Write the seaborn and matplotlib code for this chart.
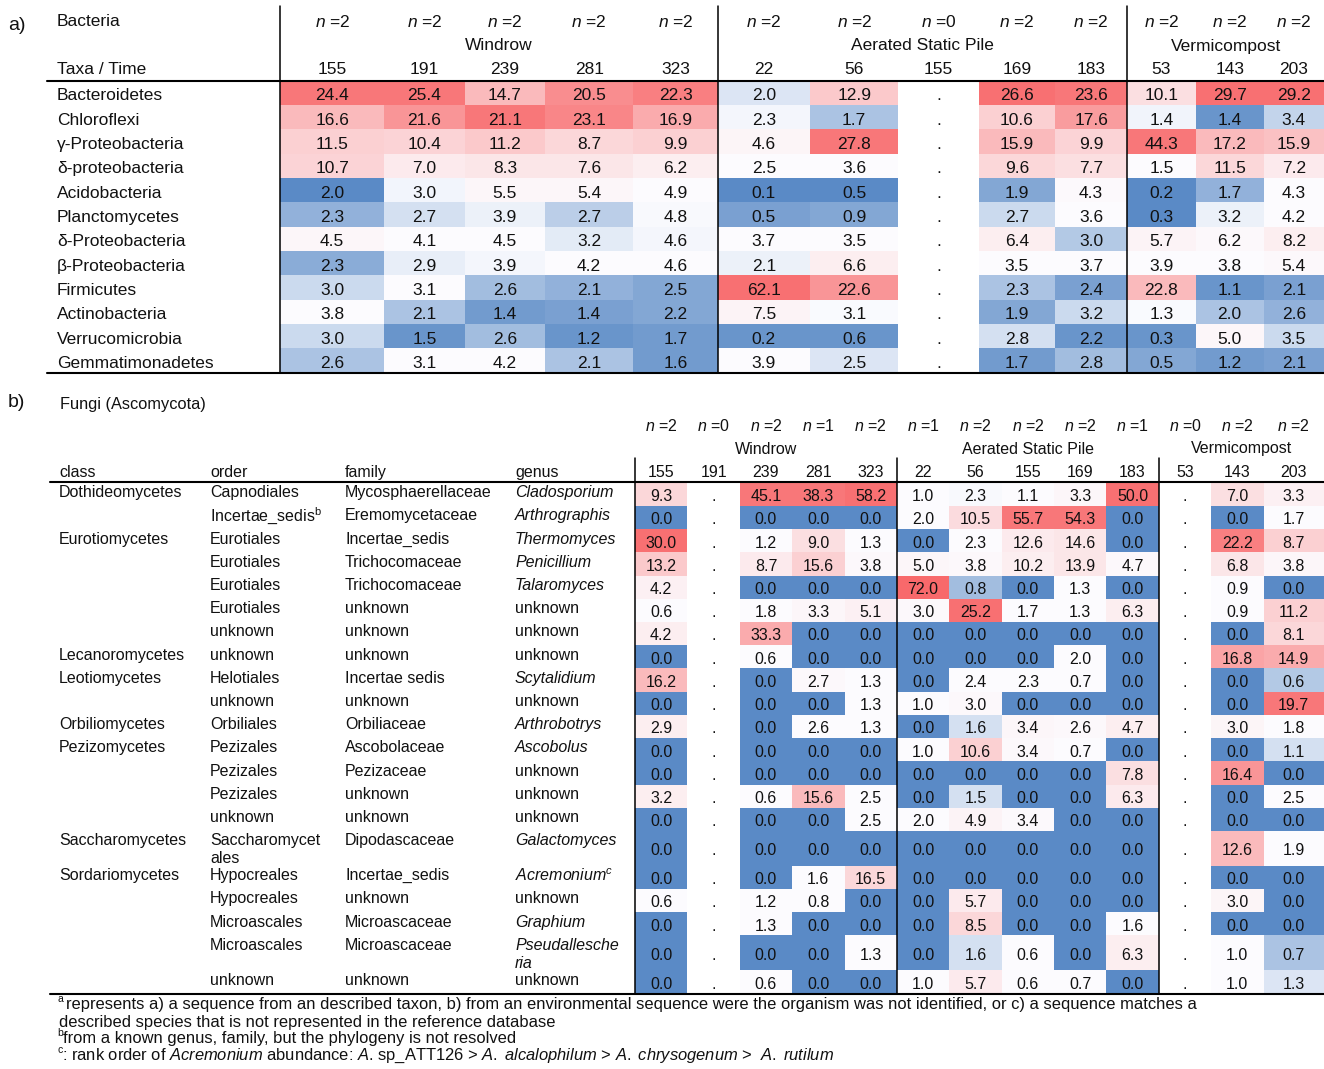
import numpy as np
import pandas as pd
import seaborn as sns
import matplotlib.pyplot as plt
from matplotlib.colors import LinearSegmentedColormap
from matplotlib.lines import Line2D
from matplotlib import transforms

sns.set_theme(style="white")
plt.rcParams["font.family"] = ["Liberation Sans", "DejaVu Sans"]
plt.rcParams["mathtext.fontset"] = "custom"
plt.rcParams["mathtext.rm"] = "Liberation Sans"
plt.rcParams["mathtext.it"] = "Liberation Sans:italic"
plt.rcParams["text.color"] = "#111111"

nan = np.nan

# ---------------- a) Bacteria ----------------
bac_taxa = ["Bacteroidetes", "Chloroflexi", "γ-Proteobacteria", "δ-proteobacteria",
            "Acidobacteria", "Planctomycetes", "δ-Proteobacteria", "β-Proteobacteria",
            "Firmicutes", "Actinobacteria", "Verrucomicrobia", "Gemmatimonadetes"]
bac_groups = ["Windrow", "Aerated Static Pile", "Vermicompost"]
bac_group_size = [5, 5, 3]
bac_times = ["155", "191", "239", "281", "323", "22", "56", "155", "169", "183", "53", "143", "203"]
bac_n = [2, 2, 2, 2, 2, 2, 2, 0, 2, 2, 2, 2, 2]

bac_pct = [
    [24.4, 25.4, 14.7, 20.5, 22.3, 2.0, 12.9, nan, 26.6, 23.6, 10.1, 29.7, 29.2],
    [16.6, 21.6, 21.1, 23.1, 16.9, 2.3, 1.7, nan, 10.6, 17.6, 1.4, 1.4, 3.4],
    [11.5, 10.4, 11.2, 8.7, 9.9, 4.6, 27.8, nan, 15.9, 9.9, 44.3, 17.2, 15.9],
    [10.7, 7.0, 8.3, 7.6, 6.2, 2.5, 3.6, nan, 9.6, 7.7, 1.5, 11.5, 7.2],
    [2.0, 3.0, 5.5, 5.4, 4.9, 0.1, 0.5, nan, 1.9, 4.3, 0.2, 1.7, 4.3],
    [2.3, 2.7, 3.9, 2.7, 4.8, 0.5, 0.9, nan, 2.7, 3.6, 0.3, 3.2, 4.2],
    [4.5, 4.1, 4.5, 3.2, 4.6, 3.7, 3.5, nan, 6.4, 3.0, 5.7, 6.2, 8.2],
    [2.3, 2.9, 3.9, 4.2, 4.6, 2.1, 6.6, nan, 3.5, 3.7, 3.9, 3.8, 5.4],
    [3.0, 3.1, 2.6, 2.1, 2.5, 62.1, 22.6, nan, 2.3, 2.4, 22.8, 1.1, 2.1],
    [3.8, 2.1, 1.4, 1.4, 2.2, 7.5, 3.1, nan, 1.9, 3.2, 1.3, 2.0, 2.6],
    [3.0, 1.5, 2.6, 1.2, 1.7, 0.2, 0.6, nan, 2.8, 2.2, 0.3, 5.0, 3.5],
    [2.6, 3.1, 4.2, 2.1, 1.6, 3.9, 2.5, nan, 1.7, 2.8, 0.5, 1.2, 2.1],
]
# cell shading: -1 = full blue, 0 = white, 1 = full red
bac_shade = [
    [0.9, 0.9, 0.45, 0.75, 0.85, -0.2, 0.35, nan, 0.95, 0.9, 0.2, 0.95, 0.95],
    [0.45, 0.7, 0.9, 0.8, 0.55, -0.05, -0.5, nan, 0.3, 0.65, -0.07, -0.9, -0.35],
    [0.3, 0.28, 0.35, 0.25, 0.3, 0.05, 0.9, nan, 0.45, 0.28, 0.9, 0.45, 0.4],
    [0.28, 0.12, 0.15, 0.15, 0.1, 0.0, 0.0, nan, 0.25, 0.2, 0.0, 0.25, 0.12],
    [-1, -0.06, 0.04, 0.04, 0.0, -1, -1, nan, -0.75, 0.02, -1, -0.65, 0.0],
    [-0.65, -0.25, -0.1, -0.4, -0.03, -0.8, -0.75, nan, -0.3, 0.0, -1, -0.1, 0.0],
    [0.04, 0.0, 0.0, -0.15, -0.05, 0.0, 0.0, nan, 0.1, -0.45, 0.06, 0.03, 0.1],
    [-0.7, -0.12, -0.05, 0.0, 0.0, -0.1, 0.1, nan, 0.0, 0.0, 0.0, 0.0, 0.03],
    [-0.3, 0.0, -0.55, -0.65, -0.75, 0.95, 0.7, nan, -0.5, -0.8, 0.45, -0.9, -0.8],
    [0.0, -0.5, -0.85, -0.8, -0.75, 0.06, -0.02, nan, -0.75, -0.3, -0.02, -0.5, -0.65],
    [-0.3, -0.9, -0.55, -0.9, -0.85, -0.9, -0.9, nan, -0.25, -0.9, -0.9, 0.04, -0.3],
    [-0.5, 0.0, 0.0, -0.5, -0.85, 0.0, -0.2, nan, -0.85, -0.55, -0.75, -0.85, -0.8],
]

# ---------------- b) Fungi ----------------
fun_groups = ["Windrow", "Aerated Static Pile", "Vermicompost"]
fun_group_size = [5, 5, 3]
fun_times = ["155", "191", "239", "281", "323", "22", "56", "155", "169", "183", "53", "143", "203"]
fun_n = [2, 0, 2, 1, 2, 1, 2, 2, 2, 1, 0, 2, 2]

fun_class = ["Dothideomycetes", "", "Eurotiomycetes", "", "", "", "", "Lecanoromycetes",
             "Leotiomycetes", "", "Orbiliomycetes", "Pezizomycetes", "", "", "",
             "Saccharomycetes", "Sordariomycetes", "", "", "", ""]
fun_order = ["Capnodiales", "Incertae_sedis$^{\\mathrm{b}}$", "Eurotiales", "Eurotiales", "Eurotiales",
             "Eurotiales", "unknown", "unknown", "Helotiales", "unknown", "Orbiliales",
             "Pezizales", "Pezizales", "Pezizales", "unknown", "Saccharomycet\nales",
             "Hypocreales", "Hypocreales", "Microascales", "Microascales", "unknown"]
fun_family = ["Mycosphaerellaceae", "Eremomycetaceae", "Incertae_sedis", "Trichocomaceae",
              "Trichocomaceae", "unknown", "unknown", "unknown", "Incertae sedis", "unknown",
              "Orbiliaceae", "Ascobolaceae", "Pezizaceae", "unknown", "unknown", "Dipodascaceae",
              "Incertae_sedis", "unknown", "Microascaceae", "Microascaceae", "unknown"]
fun_genus = ["Cladosporium", "Arthrographis", "Thermomyces", "Penicillium", "Talaromyces",
             "unknown", "unknown", "unknown", "Scytalidium", "unknown", "Arthrobotrys",
             "Ascobolus", "unknown", "unknown", "unknown", "Galactomyces", "Acremonium$^{c}$",
             "unknown", "Graphium", "Pseudallesche\nria", "unknown"]

fun_pct = [
    [9.3, nan, 45.1, 38.3, 58.2, 1.0, 2.3, 1.1, 3.3, 50.0, nan, 7.0, 3.3],
    [0.0, nan, 0.0, 0.0, 0.0, 2.0, 10.5, 55.7, 54.3, 0.0, nan, 0.0, 1.7],
    [30.0, nan, 1.2, 9.0, 1.3, 0.0, 2.3, 12.6, 14.6, 0.0, nan, 22.2, 8.7],
    [13.2, nan, 8.7, 15.6, 3.8, 5.0, 3.8, 10.2, 13.9, 4.7, nan, 6.8, 3.8],
    [4.2, nan, 0.0, 0.0, 0.0, 72.0, 0.8, 0.0, 1.3, 0.0, nan, 0.9, 0.0],
    [0.6, nan, 1.8, 3.3, 5.1, 3.0, 25.2, 1.7, 1.3, 6.3, nan, 0.9, 11.2],
    [4.2, nan, 33.3, 0.0, 0.0, 0.0, 0.0, 0.0, 0.0, 0.0, nan, 0.0, 8.1],
    [0.0, nan, 0.6, 0.0, 0.0, 0.0, 0.0, 0.0, 2.0, 0.0, nan, 16.8, 14.9],
    [16.2, nan, 0.0, 2.7, 1.3, 0.0, 2.4, 2.3, 0.7, 0.0, nan, 0.0, 0.6],
    [0.0, nan, 0.0, 0.0, 1.3, 1.0, 3.0, 0.0, 0.0, 0.0, nan, 0.0, 19.7],
    [2.9, nan, 0.0, 2.6, 1.3, 0.0, 1.6, 3.4, 2.6, 4.7, nan, 3.0, 1.8],
    [0.0, nan, 0.0, 0.0, 0.0, 1.0, 10.6, 3.4, 0.7, 0.0, nan, 0.0, 1.1],
    [0.0, nan, 0.0, 0.0, 0.0, 0.0, 0.0, 0.0, 0.0, 7.8, nan, 16.4, 0.0],
    [3.2, nan, 0.6, 15.6, 2.5, 0.0, 1.5, 0.0, 0.0, 6.3, nan, 0.0, 2.5],
    [0.0, nan, 0.0, 0.0, 2.5, 2.0, 4.9, 3.4, 0.0, 0.0, nan, 0.0, 0.0],
    [0.0, nan, 0.0, 0.0, 0.0, 0.0, 0.0, 0.0, 0.0, 0.0, nan, 12.6, 1.9],
    [0.0, nan, 0.0, 1.6, 16.5, 0.0, 0.0, 0.0, 0.0, 0.0, nan, 0.0, 0.0],
    [0.6, nan, 1.2, 0.8, 0.0, 0.0, 5.7, 0.0, 0.0, 0.0, nan, 3.0, 0.0],
    [0.0, nan, 1.3, 0.0, 0.0, 0.0, 8.5, 0.0, 0.0, 1.6, nan, 0.0, 0.0],
    [0.0, nan, 0.0, 0.0, 1.3, 0.0, 1.6, 0.6, 0.0, 6.3, nan, 1.0, 0.7],
    [0.0, nan, 0.6, 0.0, 0.0, 1.0, 5.7, 0.6, 0.7, 0.0, nan, 1.0, 1.3],
]
fun_shade = [
    [0.25, nan, 0.9, 0.9, 0.95, 0.0, -0.03, 0.0, 0.04, 0.95, nan, 0.2, 0.08],
    [-1, nan, -1, -1, -1, 0.0, 0.22, 0.9, 0.9, -1, nan, -1, 0.0],
    [0.95, nan, 0.0, 0.2, 0.0, -1, 0.0, 0.12, 0.15, -1, nan, 0.85, 0.3],
    [0.35, nan, 0.12, 0.3, 0.03, 0.04, 0.03, 0.1, 0.15, 0.03, nan, 0.15, 0.04],
    [0.08, nan, -1, -1, -1, 1.0, -0.55, -1, 0.0, -1, nan, 0.0, -1],
    [0.0, nan, 0.0, 0.04, 0.08, 0.03, 0.95, 0.0, 0.0, 0.1, nan, 0.0, 0.3],
    [0.1, nan, 0.55, -1, -1, -1, -1, -1, -1, -1, nan, -1, 0.25],
    [-1, nan, 0.0, -1, -1, -1, -1, -1, 0.0, -1, nan, 0.6, 0.55],
    [0.45, nan, -1, 0.03, 0.0, -1, 0.0, 0.0, 0.0, -1, nan, -1, -0.45],
    [-1, nan, -1, -1, 0.0, 0.0, 0.03, -1, -1, -1, nan, -1, 0.9],
    [0.1, nan, -1, 0.0, 0.0, -1, -0.25, 0.04, 0.03, 0.1, nan, 0.05, 0.0],
    [-1, nan, -1, -1, -1, 0.0, 0.3, 0.03, 0.0, -1, nan, -1, -0.25],
    [-1, nan, -1, -1, -1, -1, -1, -1, -1, 0.2, nan, 0.7, -1],
    [0.1, nan, 0.0, 0.45, 0.0, -1, -0.25, -1, -1, 0.12, nan, -1, 0.0],
    [-1, nan, -1, -1, 0.0, 0.0, 0.06, 0.02, -1, -1, nan, -1, -1],
    [-1, nan, -1, -1, -1, -1, -1, -1, -1, -1, nan, 0.45, 0.0],
    [-1, nan, -1, 0.0, 0.25, -1, -1, -1, -1, -1, nan, -1, -1],
    [0.0, nan, 0.0, 0.0, -1, -1, 0.12, -1, -1, -1, nan, 0.05, -1],
    [-1, nan, 0.0, -1, -1, -1, 0.25, -1, -1, 0.0, nan, -1, -1],
    [-1, nan, -1, -1, 0.0, -1, -0.25, 0.0, -1, 0.1, nan, 0.0, -0.5],
    [-1, nan, 0.0, -1, -1, 0.0, 0.12, 0.0, 0.0, -1, nan, 0.0, -0.2],
]

# layout (relative column widths / row heights)
bac_colw = [26, 20, 20, 22, 21, 23, 22, 20, 19, 18, 17, 17, 15]
fun_colw = [13] * 12 + [15]
fun_rowh = [2] * 15 + [3] + [2] * 3 + [3] + [2]

cmap = LinearSegmentedColormap.from_list("bwr_xl", ["#5A8AC6", "#FCFCFF", "#F8696B"])

W, H = 1324, 1069
fig = plt.figure(figsize=(W / 100, H / 100), dpi=100)


def fx(x):
    return x / W


def fy(y):
    return 1 - y / H


def hline(x0, x1, y, lw):
    fig.add_artist(Line2D([fx(x0), fx(x1)], [fy(y), fy(y)], color="black", lw=lw))


def italic_n(n):
    return "$\\it{n}$ =" + str(n)


# ---------- panel a ----------
ax_a = fig.add_axes([fx(280), fy(372.7), (W - 280) / W, (372.7 - 80.7) / H])
grid_a = np.repeat(np.array(bac_shade, dtype=float), bac_colw, axis=1)
sns.heatmap(pd.DataFrame(grid_a), ax=ax_a, cmap=cmap, vmin=-1, vmax=1, cbar=False,
            xticklabels=False, yticklabels=False)
edges_a = np.concatenate([[0], np.cumsum(bac_colw)])
cent_a = (edges_a[:-1] + edges_a[1:]) / 2
fs_a = 12.5
for i, row in enumerate(bac_pct):
    for j, v in enumerate(row):
        txt = "." if np.isnan(v) else f"{v:.1f}"
        ax_a.text(cent_a[j], i + 0.62, txt, ha="center", va="center", fontsize=fs_a)

blend_xa = transforms.blended_transform_factory(ax_a.transData, fig.transFigure)
blend_ya = transforms.blended_transform_factory(fig.transFigure, ax_a.transData)
for j, t in enumerate(bac_times):
    ax_a.text(cent_a[j], fy(70), t, transform=blend_xa, ha="center", va="center", fontsize=fs_a)
    ax_a.text(cent_a[j], fy(22), italic_n(bac_n[j]), transform=blend_xa, ha="center",
              va="center", fontsize=fs_a)
start = 0
for g, size in zip(bac_groups, bac_group_size):
    mid = (edges_a[start] + edges_a[start + size]) / 2
    ax_a.text(mid, fy(46), g, transform=blend_xa, ha="center", va="center", fontsize=fs_a)
    ax_a.plot([edges_a[start]] * 2, [fy(6), fy(372.7)], transform=blend_xa, color="black",
              lw=1.1, clip_on=False)
    start += size
for i, t in enumerate(bac_taxa):
    ax_a.text(fx(57), i + 0.62, t, transform=blend_ya, ha="left", va="center", fontsize=fs_a)

fig.text(fx(8), fy(25), "a)", ha="left", va="center", fontsize=14)
fig.text(fx(57), fy(22), "Bacteria", ha="left", va="center", fontsize=fs_a)
fig.text(fx(57), fy(70), "Taxa / Time", ha="left", va="center", fontsize=fs_a)
hline(47, W, 80.7, 1.5)
hline(47, W, 372.7, 1.5)

# ---------- panel b ----------
ax_b = fig.add_axes([fx(635), fy(993.5), (W - 635) / W, (993.5 - 482.7) / H])
grid_b = np.repeat(np.repeat(np.array(fun_shade, dtype=float), fun_rowh, axis=0), fun_colw, axis=1)
sns.heatmap(pd.DataFrame(grid_b), ax=ax_b, cmap=cmap, vmin=-1, vmax=1, cbar=False,
            xticklabels=False, yticklabels=False)
edges_b = np.concatenate([[0], np.cumsum(fun_colw)])
cent_b = (edges_b[:-1] + edges_b[1:]) / 2
redges_b = np.concatenate([[0], np.cumsum(fun_rowh)])
rcent_b = (redges_b[:-1] + redges_b[1:]) / 2
fs_b = 11.5
for i, row in enumerate(fun_pct):
    for j, v in enumerate(row):
        txt = "." if np.isnan(v) else f"{v:.1f}"
        ax_b.text(cent_b[j], rcent_b[i] + 0.2, txt, ha="center", va="center", fontsize=fs_b)

blend_xb = transforms.blended_transform_factory(ax_b.transData, fig.transFigure)
blend_yb = transforms.blended_transform_factory(fig.transFigure, ax_b.transData)
for j, t in enumerate(fun_times):
    ax_b.text(cent_b[j], fy(472.7), t, transform=blend_xb, ha="center", va="center", fontsize=fs_b)
    ax_b.text(cent_b[j], fy(426), italic_n(fun_n[j]), transform=blend_xb, ha="center",
              va="center", fontsize=fs_b)
start = 0
for g, size in zip(fun_groups, fun_group_size):
    mid = (edges_b[start] + edges_b[start + size]) / 2
    ax_b.text(mid, fy(449), g, transform=blend_xb, ha="center", va="center", fontsize=fs_b)
    ax_b.plot([edges_b[start]] * 2, [fy(458), fy(993.5)], transform=blend_xb, color="black",
              lw=1.1, clip_on=False)
    start += size

label_cols = [(59, fun_class, False), (210, fun_order, False),
              (345, fun_family, False), (515, fun_genus, True)]
for x, labels, is_genus in label_cols:
    for i, lab in enumerate(labels):
        style = "italic" if (is_genus and lab != "unknown") else "normal"
        for k, line in enumerate(lab.split("\n")):
            ax_b.text(fx(x), redges_b[i] + 0.85 + k * 1.55, line, transform=blend_yb,
                      ha="left", va="center", fontsize=fs_b, fontstyle=style)
for x, t in zip([59, 210, 345, 515], ["class", "order", "family", "genus"]):
    fig.text(fx(x), fy(472.7), t, ha="left", va="center", fontsize=fs_b)

fig.text(fx(8), fy(402), "b)", ha="left", va="center", fontsize=14)
fig.text(fx(60), fy(404), "Fungi (Ascomycota)", ha="left", va="center", fontsize=11.8)
hline(50, W, 481.5, 1.5)
hline(50, W, 993.5, 1.5)

# ---------- footnotes ----------
fs_f = 11.9
notes = [
    (66, 1005, "represents a) a sequence from an described taxon, b) from an environmental "
               "sequence were the organism was not identified, or c) a sequence matches a"),
    (59, 1022, "described species that is not represented in the reference database"),
    (63, 1039, "from a known genus, family, but the phylogeny is not resolved"),
    (62, 1056, ": rank order of $\\mathit{Acremonium}$ abundance: $\\mathit{A}$. sp_ATT126 > "
               "$\\mathit{A.\\ alcalophilum}$ > $\\mathit{A.\\ chrysogenum}$ >  $\\mathit{A.\\ rutilum}$"),
]
for x, y, t in notes:
    fig.text(fx(x), fy(y), t, ha="left", va="center", fontsize=fs_f)
for y, s in zip([999, 1033, 1050], ["a", "b", "c"]):
    fig.text(fx(57), fy(y), s, ha="left", va="center", fontsize=7.5)

fig.savefig("out.png", dpi=100)
